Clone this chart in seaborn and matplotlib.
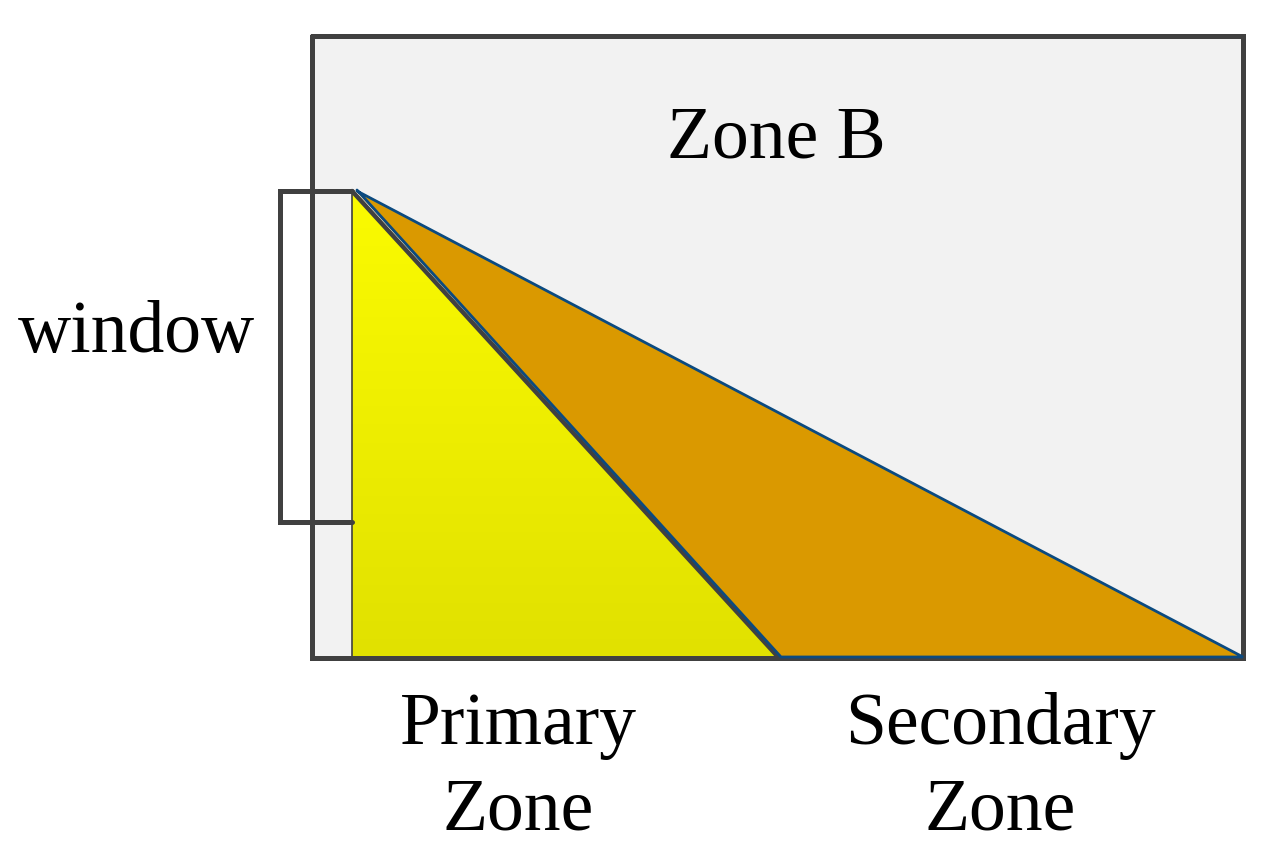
import numpy as np
import matplotlib.pyplot as plt
import seaborn as sns
from matplotlib.patches import Polygon

# Shape outlines in picture coordinates (x right, y down)
room_x = [312, 1243, 1243, 312, 312]
room_y = [36, 36, 658, 658, 36]
window_x = [352, 280, 280, 352]
window_y = [191, 191, 522, 522]
primary_x = [352, 352, 779]
primary_y = [191, 658, 658]
secondary_x = [357, 781, 1243]
secondary_y = [191, 658, 658]

labels = ["Zone B", "window", "Primary", "Zone", "Secondary", "Zone"]
label_x = [776, 137, 518, 518, 1000, 1000]
label_y = [157, 352, 744, 830, 744, 830]  # baselines

sns.set_theme(style="white")
plt.rcParams['font.family'] = ['Liberation Serif', 'DejaVu Serif']

fig = plt.figure(figsize=(12.79, 8.68), dpi=100)
ax = fig.add_axes([0, 0, 1, 1])
ax.axis('off')

edge = '#404040'
blue = '#0b4a80'

# room
ax.fill(room_x, room_y, color='#f2f2f2', zorder=1)

# primary zone with a vertical yellow gradient
grad = np.linspace(0, 1, 256).reshape(-1, 1)
cmap = sns.blend_palette(['#fbfb00', '#e1e100'], as_cmap=True)
img = ax.imshow(grad, cmap=cmap, aspect='auto',
                extent=(min(primary_x), max(primary_x), max(primary_y), min(primary_y)),
                zorder=2)
tri = Polygon(np.column_stack([primary_x, primary_y]), closed=True, transform=ax.transData)
img.set_clip_path(tri)
ax.set_xlim(0, 1279)
ax.set_ylim(868, 0)

# secondary zone
ax.fill(secondary_x, secondary_y, color='#da9900', zorder=3)

# edges of primary zone
ax.plot([primary_x[0], primary_x[2]], [primary_y[0], primary_y[2]], color=edge, lw=3.2, zorder=4)
ax.plot(primary_x[:2], primary_y[:2], color=edge, lw=1.2, zorder=4)

# room border and window
ax.plot(room_x, room_y, color=edge, lw=3.6, zorder=5, solid_joinstyle='miter')
ax.plot(window_x, window_y, color=edge, lw=3.6, zorder=5, solid_joinstyle='miter')

# outline of secondary zone sits on top
ax.plot(secondary_x + [secondary_x[0]], [y - 1 for y in secondary_y] + [secondary_y[0]],
        color=blue, lw=2.0, zorder=6, solid_joinstyle='miter')

for t, x, y in zip(labels, label_x, label_y):
    ax.text(x, y, t, ha='center', va='baseline', fontsize=53, color='black', zorder=7)

fig.savefig('out.png', dpi=100)
